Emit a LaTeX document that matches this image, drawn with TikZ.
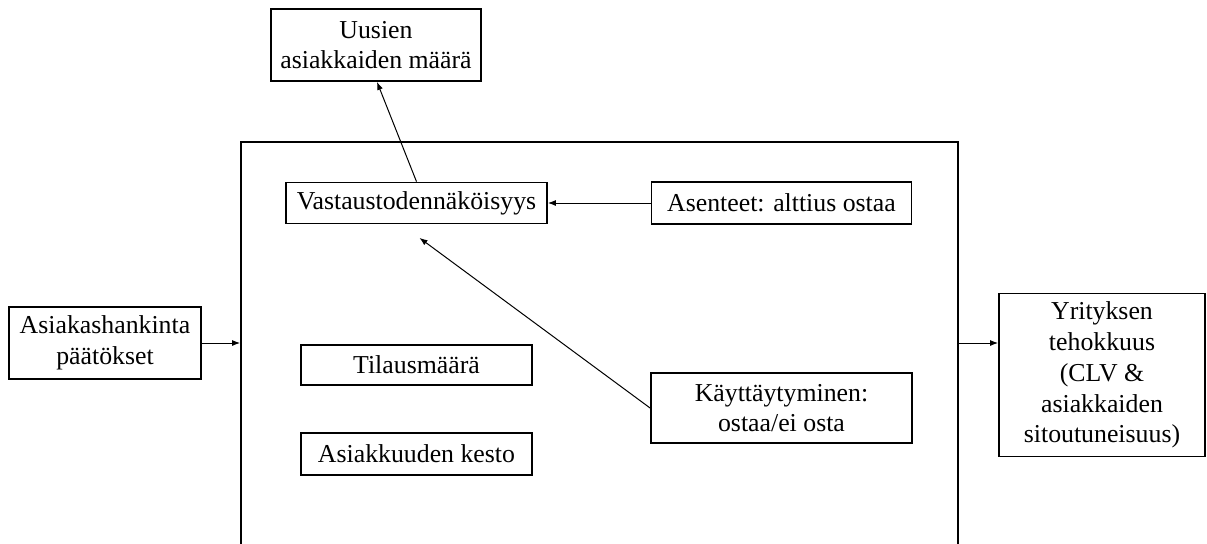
\documentclass[tikz,border=0pt]{standalone}
\usepackage{fontspec}
\setmainfont{Liberation Serif}
\usepackage{tikz}
\usetikzlibrary{arrows.meta}
\tikzstyle{box}=[rectangle,draw=black,line width=0.9pt,inner sep=0pt,align=center,
font=\fontsize{12.9}{15.4}\selectfont]
\tikzstyle{conn}=[line width=0.5pt,-{Latex[length=4pt,width=3pt]}]

\begin{document}
\begin{tikzpicture}[x=0.5pt,y=-0.5pt]
        \useasboundingbox (0,0) rectangle (1207,543);
        \clip (0,0) rectangle (1207,543);
        \node [style=box,minimum width=358.5pt,minimum height=238pt] (malli) at (599.5,380) {};
        \node [style=box,minimum width=105pt,minimum height=36pt] (uusi) at (376,45) {Uusien\\asiakkaiden määrä};
        \node [style=box,minimum width=130.5pt,minimum height=20.5pt] (vast) at (416.5,203) {Vastaustodennäköisyys};
        \node [style=box,minimum width=130pt,minimum height=21pt] (asen) at (781.5,203) {Asenteet: alttius ostaa};
        \node [style=box,minimum width=115.5pt,minimum height=20pt] (tila) at (416.5,365) {Tilausmäärä};
        \node [style=box,minimum width=115.5pt,minimum height=21pt] (kesto) at (416.5,454) {Asiakkuuden kesto};
        \node [style=box,minimum width=130.5pt,minimum height=35pt] (kayt) at (781.5,408) {Käyttäytyminen:\\ostaa/ei osta};
        \node [style=box,minimum width=96pt,minimum height=36pt] (hank) at (105,343) {Asiakashankinta\\päätökset};
        \node [style=box,minimum width=103pt,minimum height=81.5pt] (yrit) at (1102,375) {Yrityksen\\tehokkuus\\(CLV \&\\asiakkaiden\\sitoutuneisuus)};
        \draw [style=conn] (asen) to (vast);
        \draw [style=conn] (vast.north) to ([xshift=0.5pt]uusi.south);
        \draw [style=conn] (kayt.west) to ([xshift=1.5pt,yshift=-6.75pt]vast.south);
        \draw [style=conn] (hank.east) to (hank -| malli.west);
        \draw [style=conn] (malli.east |- hank) to (yrit.west |- hank);
    \end{tikzpicture}
\end{document}
